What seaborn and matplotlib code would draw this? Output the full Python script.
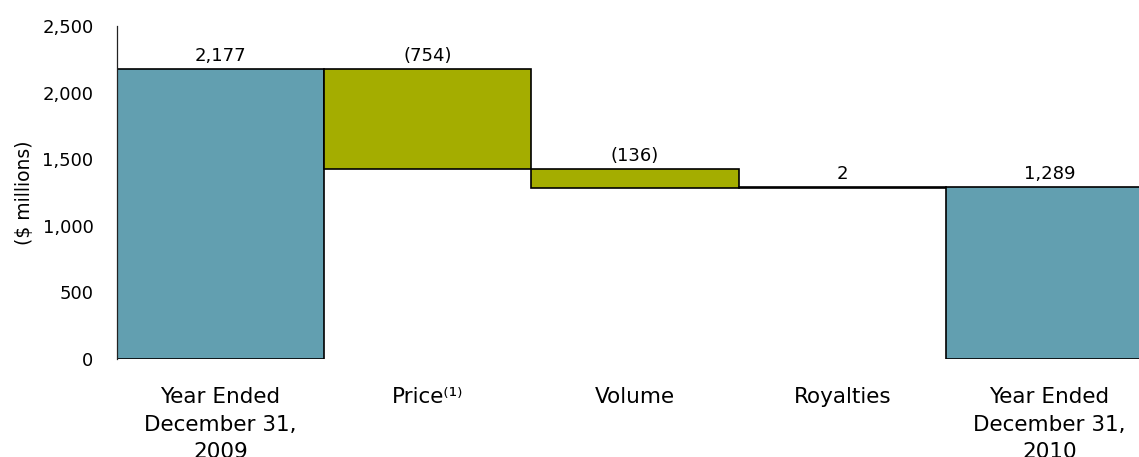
import matplotlib
matplotlib.use("Agg")
import matplotlib.pyplot as plt
import seaborn as sns
import pandas as pd
import numpy as np

categories = ["Year Ended\nDecember 31,\n2009", "Price\u207d\u00b9\u207e", "Volume", "Royalties",
              "Year Ended\nDecember 31,\n2010"]
changes = [2177, -754, -136, 2, 1289]
kinds = ["total", "change", "change", "change", "total"]
value_labels = ["2,177", "(754)", "(136)", "2", "1,289"]
yticks = [0, 500, 1000, 1500, 2000, 2500]
ytick_labels = ["0", "500", "1,000", "1,500", "2,000", "2,500"]

# waterfall geometry from data
bottoms, heights, tops = [], [], []
level = 0
for c, k in zip(changes, kinds):
    if k == "total":
        bottoms.append(0); heights.append(c); tops.append(c); level = c
    else:
        new = level + c
        bottoms.append(min(level, new)); heights.append(abs(c)); tops.append(max(level, new))
        level = new

df = pd.DataFrame({"cat": categories, "h": heights})

sns.set_style("white")
plt.rcParams["font.family"] = ["DejaVu Sans"]
plt.rcParams["text.color"] = "black"
plt.rcParams["xtick.color"] = "black"
plt.rcParams["ytick.color"] = "black"
plt.rcParams["axes.labelcolor"] = "black"

fig = plt.figure(figsize=(11.39, 4.57), dpi=100)
ax = fig.add_axes([117 / 1139, 98 / 457, 1036 / 1139, 333 / 457])

colors = {"total": "#629FB0", "change": "#A4AD00"}
sns.barplot(data=df, x="cat", y="h", order=categories, width=1.0, bottom=bottoms,
            color=colors["total"], saturation=1, edgecolor="black", linewidth=1.2,
            ax=ax, errorbar=None)

for p, k in zip(ax.patches, kinds):
    p.set_facecolor(colors[k])

for i, (t, lab) in enumerate(zip(tops, value_labels)):
    ax.annotate(lab, (i, t), xytext=(0, 6), textcoords="offset points",
                ha="center", va="baseline", fontsize=13, color="black")

ax.set_xlim(-0.5, 4.5)
ax.set_ylim(0, 2500)
ax.set_yticks(yticks)
ax.set_yticklabels(ytick_labels, fontsize=13)
ax.set_xticks(range(len(categories)))
ax.set_xticklabels(categories, fontsize=15.5, linespacing=1.45)
ax.tick_params(axis="y", length=0, pad=17)
ax.tick_params(axis="x", length=0, pad=20.5)
ax.set_xlabel("")
ax.set_ylabel("($ millions)", fontsize=13.5, labelpad=6)

for s in ["top", "right", "bottom"]:
    ax.spines[s].set_visible(False)
ax.spines["left"].set_color("#222222")
ax.spines["left"].set_linewidth(0.9)

fig.savefig("out.png", dpi=100)
